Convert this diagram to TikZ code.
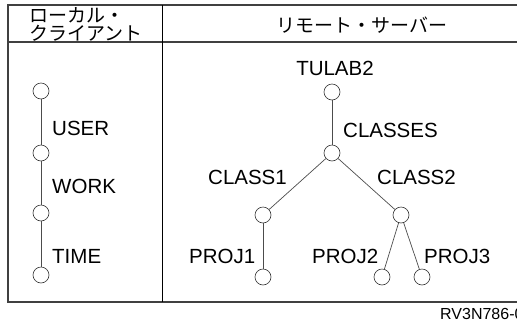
\documentclass[tikz,border=0pt]{standalone}
\usepackage{fontspec}
\setmainfont{Liberation Sans}
\newfontfamily\jpfont{Noto Sans CJK JP}
\tikzset{
  dir/.style={circle,draw=black!80,inner sep=0pt,minimum size=16pt,line width=0.6pt},
  lbl/.style={font=\fontsize{20.5}{24}\selectfont,inner sep=0pt},
  hdr/.style={font=\jpfont\fontsize{19}{18}\selectfont,inner sep=0pt},
  rule/.style={line width=1.2pt,black!75},
  link/.style={line width=0.7pt,black!70},
}
\begin{document}
\begin{tikzpicture}[x=1pt,y=-1pt]
\useasboundingbox (0,0) rectangle (517,325);
% frame
\draw[rule] (530,5) -- (8,5) -- (8,302) -- (530,302);
\draw[rule] (8,42) -- (530,42);
\draw[line width=1pt] (162,5) -- (162,302);

\node[hdr,anchor=west,align=left] (local) at (29,24) {ローカル・\\クライアント};
\node[hdr] (remote) at (362,25) {リモート・サーバー};

% local client
\node[dir] (l1) at (41,91) {};
\node[dir] (l2) at (41,153) {};
\node[dir] (l3) at (41,213) {};
\node[dir] (l4) at (41,275) {};
\draw[link] (l1) -- (l2);
\draw[link] (l2) -- (l3);
\draw[link] (l3) -- (l4);
\node[lbl,anchor=west] (user) at (52,128) {USER};
\node[lbl,anchor=west] (work) at (52,186) {WORK};
\node[lbl,anchor=west] (time) at (52,256) {TIME};

% remote server
\node[dir] (root) at (332,92) {};
\node[dir] (classes) at (332,153) {};
\node[dir] (c1) at (263,215) {};
\node[dir] (c2) at (401,215) {};
\node[dir] (p1) at (263,277) {};
\node[dir] (p2) at (382,277) {};
\node[dir] (p3) at (422,277) {};
\draw[link] (root) -- (classes);
\draw[link] (classes) -- (c1);
\draw[link] (classes) -- (c2);
\draw[link] (c1) -- (p1);
\draw[link] (c2) -- (p2);
\draw[link] (c2) -- (p3);
\node[lbl] (tulab) at (335,68) {TULAB2};
\node[lbl,anchor=west] (lclasses) at (343,130) {CLASSES};
\node[lbl,anchor=west] (lc1) at (208,177) {CLASS1};
\node[lbl,anchor=west] (lc2) at (377,177) {CLASS2};
\node[lbl,anchor=west] (lp1) at (189,256) {PROJ1};
\node[lbl,anchor=west] (lp2) at (312,256) {PROJ2};
\node[lbl,anchor=west] (lp3) at (424,256) {PROJ3};

\node[font=\fontsize{16}{16}\selectfont,anchor=west,inner sep=0pt] (figid) at (440,314) {RV3N786-0};
\end{tikzpicture}
\end{document}
